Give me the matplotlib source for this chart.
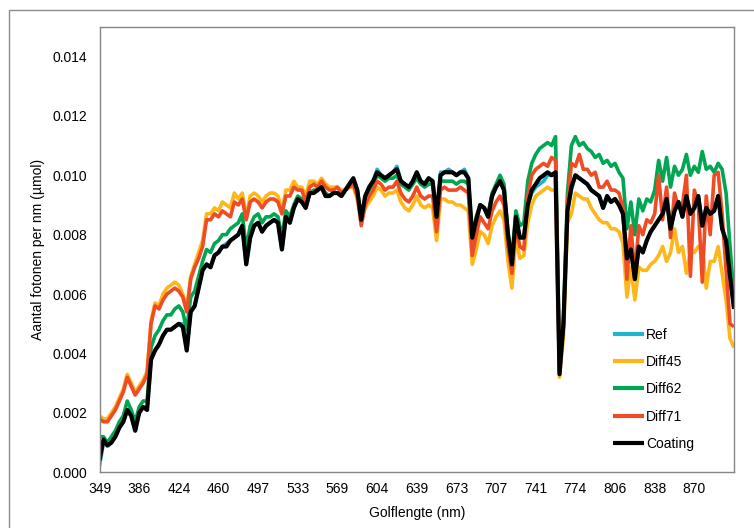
import numpy as np
import matplotlib
matplotlib.use("Agg")
import matplotlib.pyplot as plt
from matplotlib.patches import Rectangle

plt.rcParams['font.family'] = ['Liberation Sans', 'DejaVu Sans']

# Category-axis tick labels (wavelength, nm); one label every 10 categories
tick_labels = [349, 386, 424, 460, 497, 533, 569, 604, 639, 673, 707, 741, 774, 806, 838, 870]
per_tick = 10

# Photon counts per nm (values in units of 1e-3 umol)
ref = [0.2, 1.0, 0.9, 1.0, 1.2, 1.5, 1.7, 2.1, 1.9, 1.4,
       2.0, 2.2, 2.1, 3.8, 4.1, 4.3, 4.6, 4.8, 4.8, 4.9,
       5.0, 5.0, 4.1, 5.4, 5.6, 6.2, 6.8, 7.0, 6.9, 7.3,
       7.4, 7.6, 7.7, 7.8, 7.9, 8.0, 8.3, 7.0, 7.9, 8.3,
       8.4, 8.1, 8.3, 8.4, 8.5, 8.4, 7.5, 8.6, 8.4, 8.9,
       9.2, 9.1, 8.9, 9.4, 9.4, 9.5, 9.6, 9.3, 9.3, 9.4,
       9.4, 9.3, 9.5, 9.7, 9.9, 9.5, 8.5, 9.3, 9.6, 9.8,
       10.2, 10.0, 9.9, 10.0, 10.1, 10.3, 9.8, 9.7, 9.6, 9.8,
       10.1, 9.8, 9.7, 9.9, 9.8, 8.6, 10.1, 10.1, 10.2, 10.1,
       10.0, 10.1, 10.2, 9.9, 7.9, 8.5, 9.0, 8.9, 8.6, 9.3,
       9.6, 9.8, 9.5, 8.0, 7.0, 8.6, 7.9, 7.9, 9.0, 9.4,
       9.6, 9.7, 9.8, 10.0, 10.0, 10.1, 3.3, 5.0, 8.8, 9.5,
       10.0, 9.9, 9.8, 9.7, 9.5, 9.4, 9.3, 8.9, 9.2, 9.1,
       9.2, 9.0, 8.7, 7.2, 7.5, 6.5, 7.6, 7.4, 7.8, 8.1,
       8.3, 8.5, 8.7, 9.2, 8.2, 8.8, 9.1, 8.6, 9.3, 8.7,
       8.9, 9.3, 8.3, 8.9, 8.7, 8.8, 9.3, 8.2, 7.8, 6.6, 5.5]

diff45 = [1.9, 1.8, 1.8, 2.0, 2.2, 2.5, 2.8, 3.3, 3.0, 2.7,
          2.9, 3.1, 3.4, 5.1, 5.7, 5.6, 6.0, 6.2, 6.3, 6.4,
          6.3, 6.0, 5.5, 6.6, 7.0, 7.4, 7.8, 8.7, 8.7, 8.9,
          8.8, 9.1, 9.0, 8.9, 9.4, 9.2, 9.4, 8.6, 9.3, 9.4,
          9.3, 9.1, 9.3, 9.4, 9.4, 9.3, 8.8, 9.5, 9.5, 9.8,
          9.6, 9.6, 9.3, 9.8, 9.8, 9.7, 9.9, 9.7, 9.6, 9.6,
          9.6, 9.5, 9.5, 9.6, 9.6, 9.2, 8.5, 8.9, 9.1, 9.3,
          9.6, 9.5, 9.3, 9.4, 9.4, 9.5, 9.1, 8.9, 8.8, 9.0,
          9.3, 9.0, 8.9, 9.0, 8.9, 7.8, 9.2, 9.2, 9.1, 9.1,
          9.0, 9.0, 8.9, 8.8, 7.0, 7.5, 8.1, 8.0, 7.7, 8.3,
          8.6, 8.8, 8.5, 7.1, 6.2, 7.9, 7.2, 7.3, 8.4, 9.0,
          9.3, 9.4, 9.5, 9.6, 9.5, 9.5, 3.2, 4.6, 8.4, 8.7,
          9.4, 9.3, 9.2, 9.2, 8.9, 8.7, 8.5, 8.4, 8.4, 8.2,
          8.2, 8.1, 7.7, 5.9, 6.9, 5.8, 6.9, 6.8, 6.8, 7.0,
          7.1, 7.3, 7.6, 7.1, 7.4, 8.2, 7.4, 7.6, 6.7, 7.4,
          7.4, 7.6, 7.6, 6.2, 7.1, 7.1, 7.6, 6.7, 5.8, 4.5, 4.2]

diff62 = [1.2, 1.2, 1.0, 1.2, 1.4, 1.7, 1.9, 2.4, 2.1, 1.7,
          2.2, 2.4, 2.4, 4.2, 4.6, 4.8, 5.1, 5.3, 5.3, 5.5,
          5.6, 5.4, 4.8, 5.9, 6.1, 6.6, 7.1, 7.5, 7.4, 7.7,
          7.8, 8.0, 8.0, 8.2, 8.3, 8.4, 8.7, 7.5, 8.3, 8.6,
          8.7, 8.4, 8.6, 8.6, 8.7, 8.6, 7.9, 8.8, 8.6, 9.0,
          9.3, 9.2, 9.0, 9.4, 9.5, 9.5, 9.6, 9.4, 9.3, 9.4,
          9.4, 9.3, 9.5, 9.7, 9.8, 9.5, 8.5, 9.2, 9.5, 9.7,
          10.0, 9.9, 9.8, 9.9, 9.9, 10.0, 9.7, 9.6, 9.5, 9.7,
          9.9, 9.7, 9.6, 9.7, 9.7, 8.4, 9.8, 9.8, 9.8, 9.8,
          9.7, 9.8, 9.8, 9.7, 7.8, 8.6, 9.0, 8.9, 8.7, 9.4,
          9.7, 10.0, 9.7, 8.1, 7.2, 8.8, 8.3, 8.4, 9.8, 10.4,
          10.7, 10.9, 11.0, 11.1, 11.0, 11.3, 3.4, 5.2, 9.4, 11.0,
          11.3, 11.0, 11.1, 10.9, 10.8, 10.6, 10.7, 10.4, 10.5, 10.3,
          10.4, 10.1, 9.9, 8.2, 9.1, 8.0, 9.2, 8.8, 9.2, 9.1,
          9.5, 10.5, 9.8, 10.6, 9.6, 10.3, 10.0, 10.2, 10.7, 10.0,
          10.3, 10.1, 10.8, 10.2, 10.3, 10.1, 10.4, 10.2, 9.4, 7.6, 5.9]

diff71 = [1.8, 1.7, 1.7, 1.9, 2.1, 2.4, 2.7, 3.2, 2.9, 2.6,
          2.8, 3.0, 3.3, 5.0, 5.6, 5.5, 5.8, 6.0, 6.1, 6.2,
          6.1, 5.9, 5.4, 6.5, 6.9, 7.2, 7.6, 8.5, 8.5, 8.7,
          8.6, 8.8, 8.7, 8.6, 9.1, 9.0, 9.2, 8.5, 9.1, 9.2,
          9.1, 8.9, 9.1, 9.2, 9.2, 9.1, 8.7, 9.3, 9.3, 9.6,
          9.5, 9.5, 9.1, 9.6, 9.7, 9.6, 9.8, 9.6, 9.5, 9.5,
          9.6, 9.4, 9.5, 9.6, 9.7, 9.3, 8.3, 9.0, 9.3, 9.5,
          9.8, 9.7, 9.5, 9.6, 9.6, 9.8, 9.4, 9.2, 9.1, 9.3,
          9.6, 9.3, 9.2, 9.3, 9.3, 8.1, 9.5, 9.6, 9.5, 9.5,
          9.5, 9.6, 9.5, 9.4, 7.3, 8.0, 8.6, 8.4, 8.2, 8.8,
          9.1, 9.3, 9.0, 7.6, 6.7, 8.3, 7.6, 7.5, 9.3, 10.0,
          10.2, 10.3, 10.4, 10.3, 10.6, 10.5, 3.4, 4.9, 9.0, 10.4,
          10.3, 10.7, 10.2, 10.2, 10.0, 10.1, 9.6, 9.6, 9.8, 9.5,
          9.5, 9.4, 8.9, 6.5, 8.3, 6.6, 8.3, 8.0, 8.5, 8.4,
          8.7, 10.0, 8.5, 9.6, 7.9, 9.4, 8.9, 9.0, 10.0, 6.6,
          9.5, 9.0, 6.4, 9.3, 8.0, 10.0, 10.1, 8.7, 6.8, 5.0, 4.9]

coating = [0.4, 1.1, 0.9, 1.0, 1.2, 1.5, 1.7, 2.1, 1.9, 1.4,
           2.0, 2.2, 2.1, 3.8, 4.1, 4.3, 4.6, 4.8, 4.8, 4.9,
           5.0, 4.9, 4.1, 5.4, 5.6, 6.2, 6.8, 7.0, 6.9, 7.3,
           7.4, 7.6, 7.6, 7.8, 7.9, 8.0, 8.3, 7.0, 7.9, 8.3,
           8.4, 8.1, 8.3, 8.4, 8.5, 8.4, 7.5, 8.6, 8.4, 8.9,
           9.2, 9.1, 8.9, 9.4, 9.4, 9.5, 9.6, 9.3, 9.3, 9.4,
           9.4, 9.3, 9.5, 9.7, 9.9, 9.5, 8.5, 9.3, 9.6, 9.8,
           10.1, 10.0, 9.9, 10.0, 10.1, 10.2, 9.8, 9.7, 9.6, 9.8,
           10.1, 9.8, 9.7, 9.9, 9.8, 8.6, 10.0, 10.1, 10.1, 10.1,
           10.0, 10.1, 10.1, 9.9, 7.9, 8.5, 9.0, 8.9, 8.6, 9.3,
           9.6, 9.8, 9.5, 8.0, 7.0, 8.6, 7.9, 7.9, 9.0, 9.5,
           9.7, 9.9, 10.0, 10.1, 10.0, 10.1, 3.3, 5.0, 8.8, 9.6,
           10.0, 9.9, 9.8, 9.7, 9.5, 9.4, 9.3, 8.9, 9.3, 9.1,
           9.2, 9.0, 8.7, 7.2, 7.5, 6.5, 7.6, 7.4, 7.8, 8.1,
           8.3, 8.5, 8.7, 9.2, 8.2, 8.8, 9.1, 8.6, 9.3, 8.7,
           8.9, 9.3, 8.3, 8.9, 8.7, 8.8, 9.3, 8.2, 7.8, 6.6, 5.5]

series_names = ['Ref', 'Diff45', 'Diff62', 'Diff71', 'Coating']
series_data = [ref, diff45, diff62, diff71, coating]
colors = ['#1FB4D2', '#FDB71A', '#00A651', '#EF4B24', '#000000']
widths = [2.6, 2.6, 2.6, 2.6, 3.0]

n = len(coating)
for s in series_data:
    assert len(s) == n, len(s)

fig = plt.figure(figsize=(7.54, 5.28), dpi=100)
# outer chart-area frame (partly cropped)
fig.patches.append(Rectangle((9.3 / 754, -0.05), 1.1, 1.05 - 10.3 / 528,
                             transform=fig.transFigure, fill=False,
                             edgecolor='#8C8C8C', linewidth=1.0))

ax = fig.add_axes([99.5 / 754, (528 - 472.3) / 528, (734 - 99.5) / 754, (472.3 - 26.7) / 528])
x = np.arange(n)
for name, vals, c, w in zip(series_names, series_data, colors, widths):
    ax.plot(x, np.array(vals) * 1e-3, color=c, lw=w, label=name,
            solid_joinstyle='round', solid_capstyle='butt')

ax.set_xlim(0, n - 1)
ax.set_ylim(0, 0.015)
ax.set_yticks(np.arange(0, 0.0141, 0.002))
ax.set_yticklabels([f'{v:.3f}' for v in np.arange(0, 0.0141, 0.002)])
ax.set_xticks(np.arange(len(tick_labels)) * per_tick)
ax.set_xticklabels([str(t) for t in tick_labels])
ax.tick_params(axis='both', length=0, labelsize=10, colors='#000000')
ax.tick_params(axis='x', pad=7)
ax.tick_params(axis='y', pad=9)
for sp in ax.spines.values():
    sp.set_color('#868686')
    sp.set_linewidth(1.0)

ax.set_xlabel('Golflengte (nm)', fontsize=10, labelpad=7.5)
ax.set_ylabel('Aantal fotonen per nm (µmol)', fontsize=10, labelpad=5)

leg = ax.legend(loc='upper left', bbox_to_anchor=(0.81, 0.324), frameon=False,
                fontsize=10, handlelength=2.2, handletextpad=0.15,
                labelspacing=0.95, borderpad=0, borderaxespad=0)
for line in leg.get_lines():
    line.set_linewidth(3.0)

fig.savefig('out.png', dpi=100)
